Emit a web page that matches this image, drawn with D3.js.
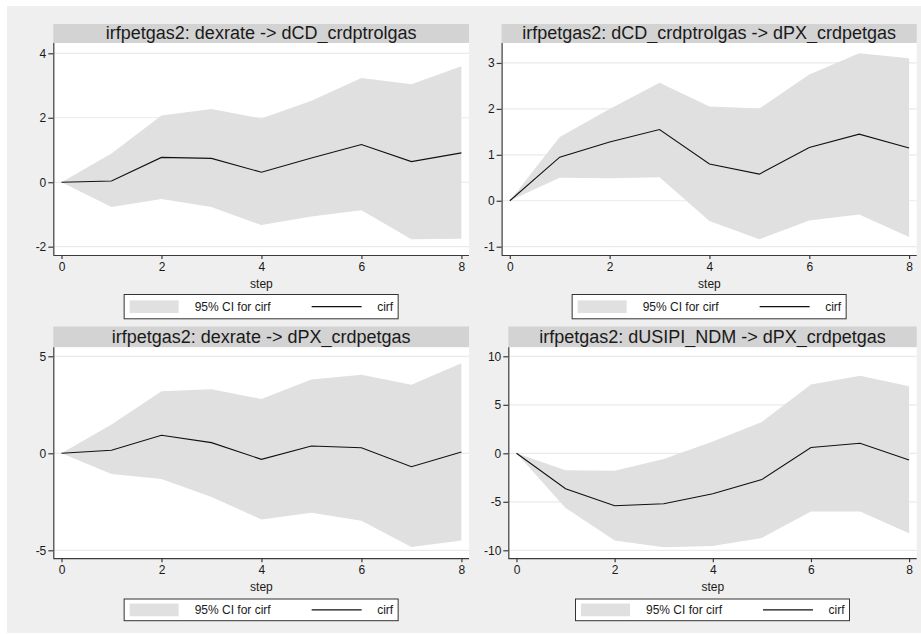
<!DOCTYPE html>
<html>
<head>
<meta charset="utf-8">
<script src="https://cdn.jsdelivr.net/npm/d3@7"></script>
<style>
  body { margin: 0; background: #fff; }
  text { font-family: "Liberation Sans", Arial, sans-serif; fill: #1a1a1a; }
</style>
</head>
<body>
<div id="chart-area"></div>
<script>
// impulse response panels (Stata irf graph)
var steps = [0, 1, 2, 3, 4, 5, 6, 7, 8];

var titles = [
  "irfpetgas2: dexrate -> dCD_crdptrolgas",
  "irfpetgas2: dCD_crdptrolgas -> dPX_crdpetgas",
  "irfpetgas2: dexrate -> dPX_crdpetgas",
  "irfpetgas2: dUSIPI_NDM -> dPX_crdpetgas"
];

// cirf, lower and upper 95% CI, one row per panel
var cirf = [
  [0, 0.04, 0.77, 0.74, 0.31, 0.75, 1.17, 0.64, 0.91],
  [0, 0.95, 1.28, 1.55, 0.80, 0.58, 1.16, 1.45, 1.15],
  [0, 0.16, 0.93, 0.55, -0.31, 0.38, 0.29, -0.69, 0.07],
  [0, -3.65, -5.40, -5.20, -4.17, -2.71, 0.59, 1.04, -0.69]
];
var lower = [
  [0, -0.77, -0.52, -0.77, -1.33, -1.06, -0.87, -1.77, -1.75],
  [0, 0.50, 0.49, 0.51, -0.44, -0.84, -0.43, -0.30, -0.79],
  [0, -1.07, -1.33, -2.25, -3.41, -3.06, -3.48, -4.83, -4.50],
  [0, -5.63, -8.99, -9.69, -9.55, -8.72, -6.01, -6.01, -8.23]
];
var upper = [
  [0, 0.89, 2.07, 2.27, 1.98, 2.53, 3.23, 3.04, 3.60],
  [0, 1.39, 2.00, 2.57, 2.05, 2.01, 2.75, 3.21, 3.10],
  [0, 1.49, 3.20, 3.30, 2.80, 3.80, 4.05, 3.53, 4.64],
  [0, -1.74, -1.81, -0.59, 1.22, 3.23, 7.08, 7.99, 6.91]
];

var yTicks = [
  [-2, 0, 2, 4],
  [-1, 0, 1, 2, 3],
  [-5, 0, 5],
  [-10, -5, 0, 5, 10]
];
var xTicks = [0, 2, 4, 6, 8];

var legendLabels = ["95% CI for cirf", "cirf"];

// layout
var rows = [
  {titleTop: 24, titleBottom: 43, innerTop: 53.3, innerBottom: 246.7, axisY: 255, legTop: 294.5, legBottom: 318.8},
  {titleTop: 326.5, titleBottom: 347.3, innerTop: 356.3, innerBottom: 550.3, axisY: 558.2, legTop: 599, legBottom: 620.7}
];
var plotLefts = [53.3, 501.6, 53.3, 508.3];
var plotRights = [469, 916.7, 469, 916.7];

var bandColor = "#e0e0e0";

var svg = d3.select("#chart-area")
  .append("svg")
  .attr("width", 921)
  .attr("height", 634);

svg.append("rect")
  .attr("x", 7).attr("y", 6)
  .attr("width", 914).attr("height", 627)
  .attr("fill", "#efefef");

titles.forEach(function(title, p) {
  var row = rows[Math.floor(p / 2)];
  var left = plotLefts[p], right = plotRights[p];
  var g = svg.append("g");

  var x = d3.scaleLinear()
    .domain([0, 8])
    .range([left + 8.2, right - 7.6]);

  var ext = d3.extent(yTicks[p].concat(lower[p], upper[p]));
  var y = d3.scaleLinear()
    .domain(ext)
    .range([row.innerBottom, row.innerTop]);

  // title band
  g.append("rect")
    .attr("x", left).attr("y", row.titleTop)
    .attr("width", right - left).attr("height", row.titleBottom - row.titleTop)
    .attr("fill", "#d3d3d3");
  g.append("text")
    .attr("x", (left + right) / 2)
    .attr("y", row.titleBottom - 4.5)
    .attr("text-anchor", "middle")
    .attr("font-size", "18px")
    .text(title);

  // plot region
  g.append("rect")
    .attr("x", left).attr("y", row.titleBottom)
    .attr("width", right - left).attr("height", row.axisY - row.titleBottom)
    .attr("fill", "#fff");

  // grid
  g.selectAll(".grid")
    .data(yTicks[p])
    .enter().append("line")
      .attr("class", "grid")
      .attr("x1", left).attr("x2", right)
      .attr("y1", function(d){ return y(d); })
      .attr("y2", function(d){ return y(d); })
      .attr("stroke", "#eaeaea")
      .attr("stroke-width", 1.2);

  // CI band
  var area = d3.area()
    .x(function(d){ return x(d); })
    .y0(function(d, i){ return y(lower[p][i]); })
    .y1(function(d, i){ return y(upper[p][i]); });
  g.append("path")
    .datum(steps)
    .attr("d", area)
    .attr("fill", bandColor);

  // cirf line
  var line = d3.line()
    .x(function(d){ return x(d); })
    .y(function(d, i){ return y(cirf[p][i]); });
  g.append("path")
    .datum(steps)
    .attr("d", line)
    .attr("fill", "none")
    .attr("stroke", "#111")
    .attr("stroke-width", 1.1);

  // axes
  var yAxisCall = d3.axisLeft(y)
    .tickValues(yTicks[p])
    .tickSize(5)
    .tickPadding(2)
    .tickFormat(function(d){ return d; });
  var yAxisGroup = g.append("g")
    .attr("transform", "translate(" + left + ",0)")
    .call(yAxisCall);

  var xAxisCall = d3.axisBottom(x)
    .tickValues(xTicks)
    .tickSize(4)
    .tickPadding(3)
    .tickFormat(function(d){ return d; });
  var xAxisGroup = g.append("g")
    .attr("transform", "translate(0," + row.axisY + ")")
    .call(xAxisCall);

  yAxisGroup.select(".domain").attr("d", "M0.5," + row.titleBottom + "V" + row.axisY);
  xAxisGroup.select(".domain").attr("d", "M" + left + ",0.5H" + right);
  [yAxisGroup, xAxisGroup].forEach(function(ax) {
    ax.selectAll("path, line").attr("stroke", "#3a3a3a").attr("stroke-width", 1.2);
    ax.selectAll("text")
      .attr("font-size", "12px")
      .attr("font-family", "Liberation Sans, Arial, sans-serif")
      .attr("fill", "#1a1a1a");
  });

  g.append("text")
    .attr("x", (x(0) + x(8)) / 2)
    .attr("y", row.axisY + 33)
    .attr("text-anchor", "middle")
    .attr("font-size", "12px")
    .text("step");

  // legend
  var cx = (left + right) / 2;
  var lx = cx - 137;
  var lh = row.legBottom - row.legTop;
  var mid = row.legTop + lh / 2;
  g.append("rect")
    .attr("x", lx).attr("y", row.legTop)
    .attr("width", 274).attr("height", lh)
    .attr("fill", "#fff")
    .attr("stroke", "#333")
    .attr("stroke-width", 1);
  g.append("rect")
    .attr("x", lx + 5.5).attr("y", mid - 6.3)
    .attr("width", 49).attr("height", 12.7)
    .attr("fill", bandColor);
  g.append("text")
    .attr("x", lx + 108.5)
    .attr("y", mid + 4.3)
    .attr("text-anchor", "middle")
    .attr("font-size", "12px")
    .text(legendLabels[0]);
  g.append("line")
    .attr("x1", lx + 187.5).attr("x2", lx + 237.5)
    .attr("y1", mid).attr("y2", mid)
    .attr("stroke", "#111")
    .attr("stroke-width", 1.1);
  g.append("text")
    .attr("x", lx + 269)
    .attr("y", mid + 4.3)
    .attr("text-anchor", "end")
    .attr("font-size", "12px")
    .text(legendLabels[1]);
});
</script>
</body>
</html>
